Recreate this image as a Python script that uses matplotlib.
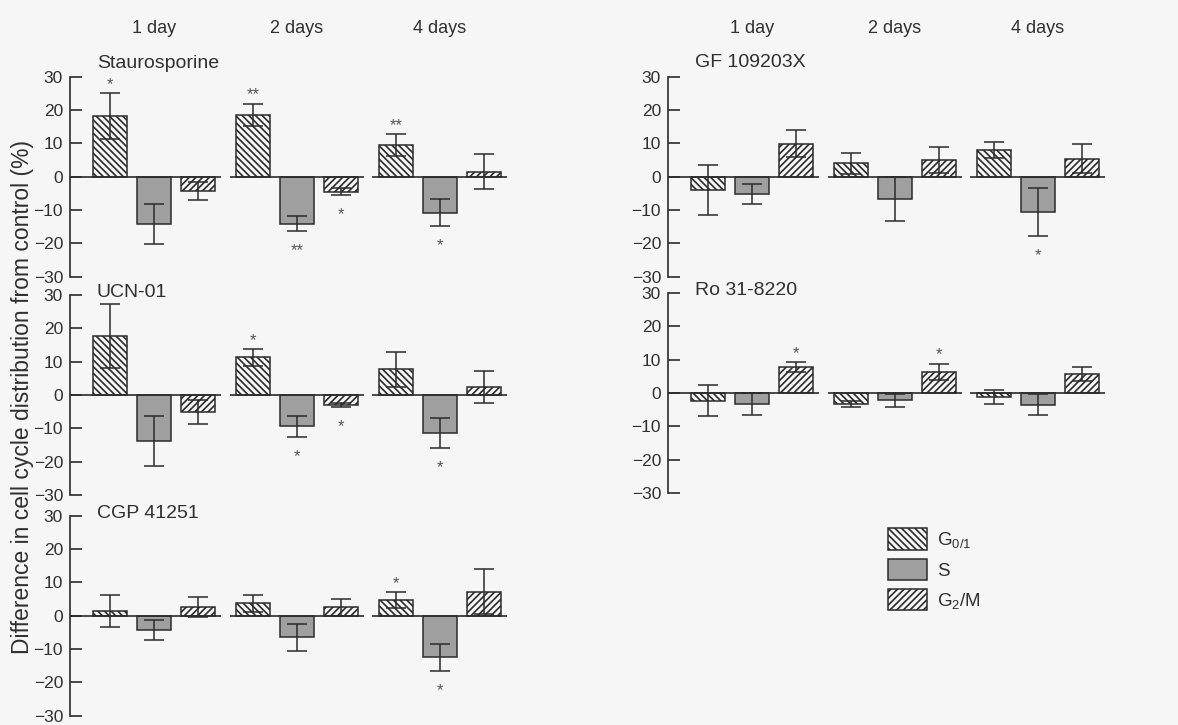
import matplotlib

matplotlib.use("Agg")
import matplotlib.pyplot as plt
from matplotlib.patches import Patch

plt.rcParams["font.family"] = ["Liberation Sans", "DejaVu Sans"]
plt.rcParams["mathtext.fontset"] = "custom"
plt.rcParams["mathtext.rm"] = "Liberation Sans"
plt.rcParams["mathtext.it"] = "Liberation Sans:italic"
plt.rcParams["hatch.linewidth"] = 1.2

days = ["1 day", "2 days", "4 days"]
phases = [r"$\mathregular{G_{0/1}}$", "S", r"$\mathregular{G_2/M}$"]

# rows = day (1, 2, 4), columns = phase (G0/1, S, G2/M)
stauro_mean = [[18.2, -14.1, -4.3], [18.5, -14.1, -4.5], [9.5, -10.8, 1.5]]
stauro_err = [[6.8, 6.0, 2.6], [3.4, 2.2, 1.0], [3.2, 4.1, 5.3]]
stauro_sig = [["*", "", ""], ["**", "**", "*"], ["**", "*", ""]]

ucn_mean = [[17.7, -13.8, -5.1], [11.3, -9.4, -3.0], [7.7, -11.3, 2.3]]
ucn_err = [[9.5, 7.4, 3.5], [2.5, 3.1, 0.6], [5.2, 4.5, 4.8]]
ucn_sig = [["", "", ""], ["*", "*", "*"], ["", "*", ""]]

cgp_mean = [[1.4, -4.3, 2.5], [3.7, -6.5, 2.5], [4.6, -12.5, 7.2]]
cgp_err = [[4.9, 3.0, 3.0], [2.5, 4.1, 2.6], [2.4, 4.1, 6.7]]
cgp_sig = [["", "", ""], ["", "", ""], ["*", "*", ""]]

gf_mean = [[-4.0, -5.2, 9.9], [4.0, -6.6, 5.0], [7.9, -10.6, 5.4]]
gf_err = [[7.4, 2.9, 4.1], [3.2, 6.6, 4.0], [2.4, 7.2, 4.3]]
gf_sig = [["", "", ""], ["", "", ""], ["", "*", ""]]

ro_mean = [[-2.3, -3.4, 7.8], [-3.3, -2.2, 6.3], [-1.3, -3.5, 5.7]]
ro_err = [[4.7, 3.3, 1.5], [1.0, 2.0, 2.5], [2.1, 3.2, 2.2]]
ro_sig = [["", "", "*"], ["", "", "*"], ["", "", ""]]

INK = "#2b2b2b"
TEXT = "#303030"
GREY = "#9f9f9f"
BG = "#f6f6f6"
W, H = 1178, 725
GROUP_STEP = 3.25
BAR_W = 0.77

styles = [
    dict(facecolor="none", hatch="\\\\\\\\\\"),
    dict(facecolor=GREY, hatch=None),
    dict(facecolor="none", hatch="/////"),
]

fig = plt.figure(figsize=(W / 100, H / 100), dpi=100, facecolor=BG)


def add_panel(left_px, top_px, name, title_y, mean, err, sig, headers=False):
    ax = fig.add_axes([left_px / W, 1 - (top_px + 200) / H, 437 / W, 200 / H])
    ax.set_facecolor("none")
    ax.set_xlim(-0.91, 2 * GROUP_STEP + 2.53)
    ax.set_ylim(-30, 30)
    for s in ["top", "right", "bottom"]:
        ax.spines[s].set_visible(False)
    ax.spines["left"].set_color(INK)
    ax.spines["left"].set_linewidth(1.2)
    ax.set_xticks([])
    ax.set_yticks(range(-30, 31, 10))
    ax.tick_params(axis="y", direction="in", length=8.5, width=1.2, color=INK,
                   labelsize=12.5, labelcolor=TEXT, pad=5)

    for g in range(3):
        x0 = g * GROUP_STEP
        start = -0.91 if g == 0 else x0 - 0.53
        ax.plot([start, x0 + 2.53], [0, 0], color=INK, lw=1.2, zorder=3,
                solid_capstyle="butt")
        for b in range(3):
            xb = x0 + b
            m, e = mean[g][b], err[g][b]
            ax.bar(xb, m, width=BAR_W, edgecolor=INK, linewidth=1.1, zorder=2,
                   **styles[b])
            ax.errorbar(xb, m, yerr=e, fmt="none", ecolor=INK, elinewidth=1.1,
                        capsize=7.5, capthick=1.1, zorder=4)
            if sig[g][b]:
                if m >= 0:
                    ax.text(xb, m + e + 1.3, sig[g][b], ha="center", va="baseline",
                            fontsize=12, color="#555555")
                else:
                    ax.text(xb, m - e - 7.2, sig[g][b], ha="center", va="baseline",
                            fontsize=12, color="#555555")
        if headers:
            ax.text(x0 + 1, 43, days[g], ha="center", va="baseline",
                    fontsize=13, color=TEXT)

    ax.text(-0.3, title_y, name, ha="left", va="baseline", fontsize=14, color=TEXT)
    return ax


add_panel(70, 76.7, "Staurosporine", 32.7, stauro_mean, stauro_err, stauro_sig, headers=True)
add_panel(70, 295, "UCN-01", 29.5, ucn_mean, ucn_err, ucn_sig)
add_panel(70, 515.7, "CGP 41251", 29.3, cgp_mean, cgp_err, cgp_sig)
add_panel(668, 76.7, "GF 109203X", 33.0, gf_mean, gf_err, gf_sig, headers=True)
add_panel(668, 293, "Ro 31-8220", 29.4, ro_mean, ro_err, ro_sig)

fig.text(23 / W, 1 - 397 / H, "Difference in cell cycle distribution from control (%)",
         rotation=90, ha="center", va="center", fontsize=16.5, color=TEXT)

handles = [Patch(edgecolor=INK, linewidth=1.1, **st) for st in styles]
fig.legend(handles, phases, loc="upper left", bbox_to_anchor=(888 / W, 1 - 528 / H),
           frameon=False, fontsize=13.5, handlelength=2.1, handleheight=1.4,
           labelspacing=0.45, handletextpad=0.5, borderpad=0, borderaxespad=0,
           labelcolor=TEXT)

fig.savefig("out.png", dpi=100, facecolor=BG)
